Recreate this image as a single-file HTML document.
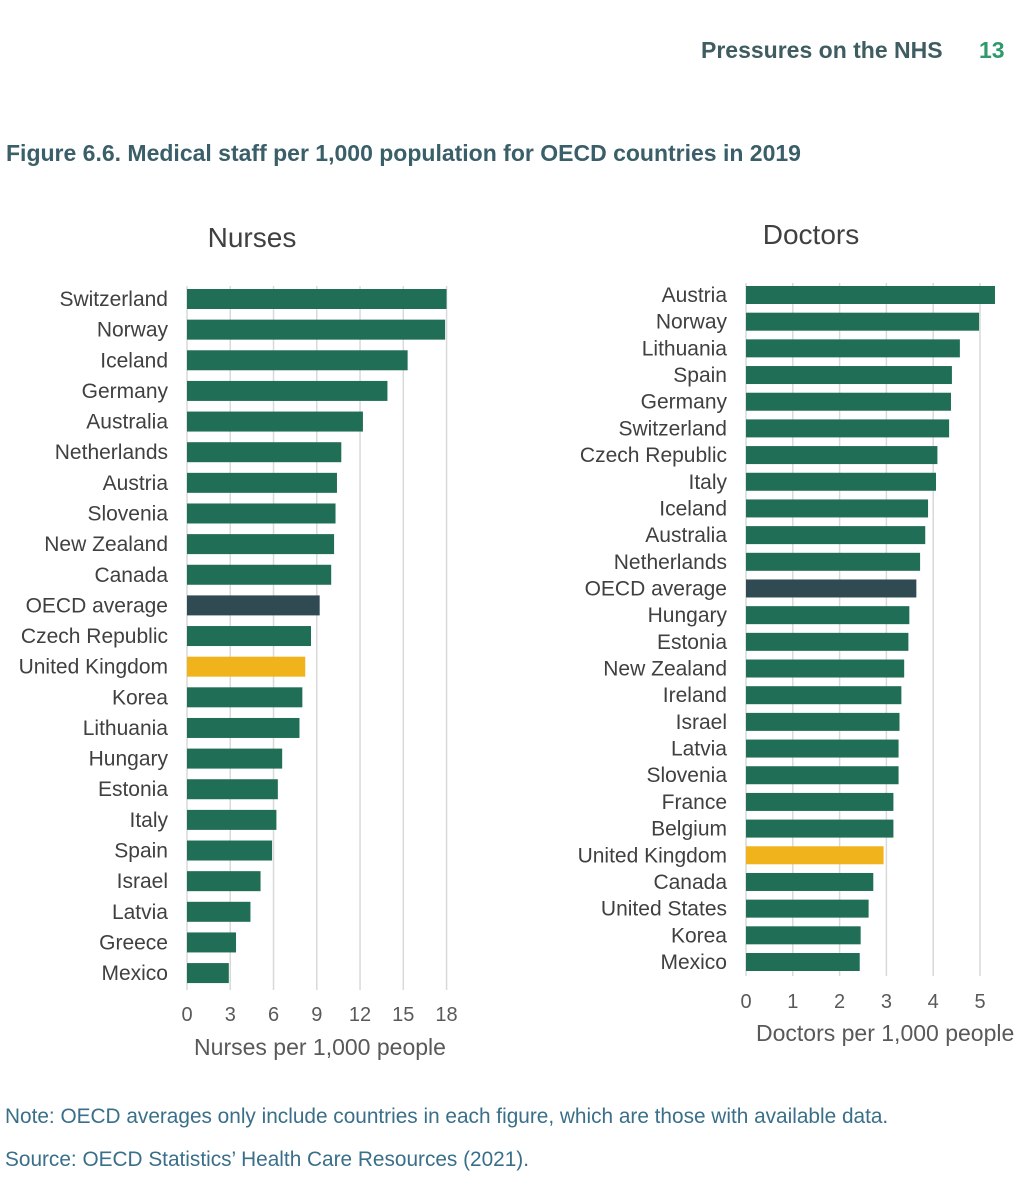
<!DOCTYPE html>
<html><head><meta charset="utf-8">
<style>
html,body{margin:0;padding:0;background:#fff;}
body{width:1015px;height:1200px;position:relative;overflow:hidden;font-family:"Liberation Sans",sans-serif;}
.abs{position:absolute;white-space:nowrap;}
</style></head>
<body>
<div class="abs" style="left:701px;top:37px;font-size:23px;font-weight:bold;color:#3f5d61;">Pressures on the NHS</div>
<div class="abs" style="left:979px;top:37px;font-size:23px;font-weight:bold;color:#2f9a6b;">13</div>
<div class="abs" style="left:6px;top:140px;font-size:23px;font-weight:bold;color:#3a5f68;">Figure 6.6. Medical staff per 1,000 population for OECD countries in 2019</div>
<svg id="chart" width="1015" height="1080" style="position:absolute;left:0;top:0;" xmlns="http://www.w3.org/2000/svg"></svg>
<div class="abs" style="left:5px;top:1105px;font-size:20.8px;color:#3a6f8a;">Note: OECD averages only include countries in each figure, which are those with available data.</div>
<div class="abs" style="left:5px;top:1148px;font-size:20.8px;color:#3a6f8a;">Source: OECD Statistics’ Health Care Resources (2021).</div>
<script>
const nurseCountries=["Switzerland","Norway","Iceland","Germany","Australia","Netherlands","Austria","Slovenia","New Zealand","Canada","OECD average","Czech Republic","United Kingdom","Korea","Lithuania","Hungary","Estonia","Italy","Spain","Israel","Latvia","Greece","Mexico"];
const nurseValues=[18.0,17.9,15.3,13.9,12.2,10.7,10.4,10.3,10.2,10.0,9.2,8.6,8.2,8.0,7.8,6.6,6.3,6.2,5.9,5.1,4.4,3.4,2.9];
const nurseTicks=[0,3,6,9,12,15,18];
const doctorCountries=["Austria","Norway","Lithuania","Spain","Germany","Switzerland","Czech Republic","Italy","Iceland","Australia","Netherlands","OECD average","Hungary","Estonia","New Zealand","Ireland","Israel","Latvia","Slovenia","France","Belgium","United Kingdom","Canada","United States","Korea","Mexico"];
const doctorValues=[5.32,4.98,4.57,4.40,4.38,4.34,4.09,4.06,3.89,3.83,3.72,3.64,3.49,3.47,3.38,3.32,3.28,3.26,3.26,3.15,3.15,2.94,2.72,2.62,2.45,2.43];
const doctorTicks=[0,1,2,3,4,5];

const svg=document.getElementById('chart');
const NS="http://www.w3.org/2000/svg";
function mk(tag,attrs,text){const e=document.createElementNS(NS,tag);for(const k in attrs)e.setAttribute(k,attrs[k]);if(text!==undefined)e.textContent=text;svg.appendChild(e);return e;}
function colorFor(c){return c==="OECD average"?"#2f4a52":(c==="United Kingdom"?"#f1b31c":"#1f6e55");}

function drawChart(o){
  const x=v=>o.x0+v*o.scale;
  const y=i=>o.y0+i*o.step;
  o.ticks.forEach(t=>{
    const g=mk('line',{x1:x(t),x2:x(t),y1:o.gTop,y2:o.gBot,stroke:"#d9d9d9","stroke-width":1.5});
    
    
    const tl=mk('text',{x:x(t),y:o.tickY,"text-anchor":"middle","font-size":20,fill:"#595959","font-family":"Liberation Sans, sans-serif"},String(t));
    
    
  });
  o.cats.forEach((c,i)=>{
    const b=mk('rect',{x:x(0),y:y(i)-o.bh/2,width:x(o.vals[i])-x(0),height:o.bh,fill:colorFor(c)});
    
    
    const l=mk('text',{x:o.labelX,y:y(i)+7,"text-anchor":"end","font-size":21,fill:"#404040","font-family":"Liberation Sans, sans-serif"},c);
    
    
  });
  const t=mk('text',{x:o.titleX,y:o.titleY,"text-anchor":"middle","font-size":28,fill:"#404040","font-family":"Liberation Sans, sans-serif"},o.title);
  
  
  const a=mk('text',{x:o.axX,y:o.axY,"text-anchor":o.axAnchor,"font-size":23,fill:"#595959","font-family":"Liberation Sans, sans-serif"},o.axTitle);
  
  
}
drawChart({key:'nurses',cats:nurseCountries,vals:nurseValues,ticks:nurseTicks,x0:187,scale:14.42,y0:299,step:30.64,bh:20,gTop:286,gBot:990,tickY:1021,labelX:168,title:"Nurses",titleX:252,titleY:247,axTitle:"Nurses per 1,000 people",axX:320,axY:1055,axAnchor:"middle"});
drawChart({key:'doctors',cats:doctorCountries,vals:doctorValues,ticks:doctorTicks,x0:746,scale:46.8,y0:295,step:26.68,bh:18,gTop:283,gBot:976,tickY:1008,labelX:727,title:"Doctors",titleX:811,titleY:244,axTitle:"Doctors per 1,000 people",axX:756,axY:1041,axAnchor:"start"});
</script>
</body></html>
